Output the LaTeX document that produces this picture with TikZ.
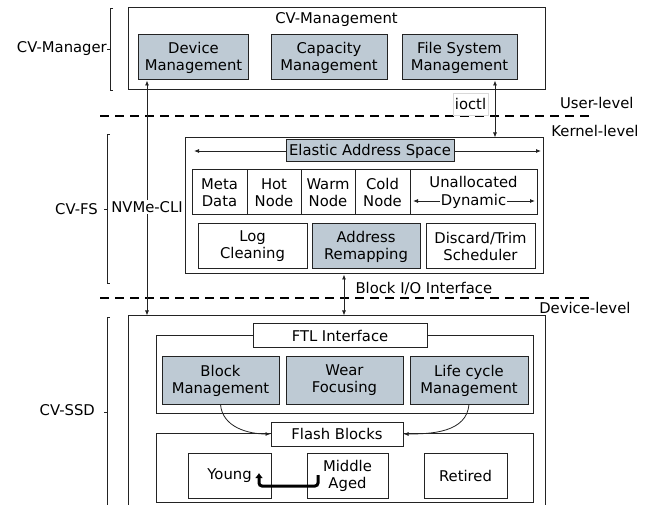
\documentclass[tikz,border=0pt]{standalone}
\usepackage{fontspec}
\setmainfont{DejaVu Sans}
\usetikzlibrary{arrows.meta,calc,positioning}
\definecolor{cvgray}{RGB}{190,202,212}
\definecolor{cvline}{RGB}{35,35,35}

\begin{document}
\begin{tikzpicture}[x=1pt,y=-1pt,
    font=\fontsize{14.8}{17}\selectfont,
    box/.style={draw=cvline,line width=1pt,inner sep=0pt,align=center},
    gbox/.style={box,fill=cvgray},
    wbox/.style={box,fill=white},
    arr/.style={-{Latex[length=5pt,width=4pt]},line width=0.8pt,cvline},
    twoway/.style={{Latex[length=5pt,width=4pt]}-{Latex[length=5pt,width=4pt]},line width=0.8pt,cvline},
    levelline/.style={line width=2pt,dash pattern=on 9pt off 6pt},
    brace/.style={line width=0.8pt,cvline}]
\useasboundingbox (0,0) rectangle (646,505);

% user level
\node[box,minimum width=417pt,minimum height=82pt] (mgmt) at (336.5,49) {};
\node (mgmttitle) at (336.5,20) {CV-Management};
\node[gbox,minimum width=110pt,minimum height=45pt] (dev) at (193.5,57.5) {Device\\Management};
\node[gbox,minimum width=116pt,minimum height=45pt] (cap) at (329,57.5) {Capacity\\Management};
\node[gbox,minimum width=115pt,minimum height=45pt] (fsm) at (459.5,57.5) {File System\\Management};

\draw[levelline] (100,116) -- (590,116);
\draw[levelline] (100,298) -- (590,298);
\node[anchor=east] (userlvl) at (637,103) {User-level};
\node[anchor=east] (kernlvl) at (642,131) {Kernel-level};
\node[anchor=east] (devlvl) at (634,308) {Device-level};

% kernel level
\node[box,minimum width=358pt,minimum height=136pt] (cvfs) at (364,206) {};
\node[gbox,minimum width=168pt,minimum height=22pt] (eas) at (370,151) {Elastic Address Space};
\coordinate (easl) at (194,151);
\coordinate (easr) at (541,151);
\draw[arr] (eas.west) -- (easl);
\draw[arr] (eas.east) -- (easr);

\node[box,minimum width=55pt,minimum height=45pt] (meta) at (219.5,192.5) {Meta\\Data};
\node[box,minimum width=54pt,minimum height=45pt] (hot) at (274,192.5) {Hot\\Node};
\node[box,minimum width=54pt,minimum height=45pt] (warm) at (328,192.5) {Warm\\Node};
\node[box,minimum width=55pt,minimum height=45pt] (cold) at (382.5,192.5) {Cold\\Node};
\node[box,minimum width=127pt,minimum height=45pt] (unalloc) at (473.5,192.5) {};
\node (unalloctxt) at (473.5,182) {Unallocated};
\node[inner sep=1pt] (dyn) at (473.5,201) {Dynamic};
\coordinate (dynl) at (413,201);
\coordinate (dynr) at (535,201);
\draw[arr] (dyn.west) -- (dynl);
\draw[arr] (dyn.east) -- (dynr);

\node[box,minimum width=109pt,minimum height=45pt] (logc) at (252.5,246.5) {Log\\Cleaning};
\node[gbox,minimum width=108pt,minimum height=45pt] (remap) at (366,246.5) {Address\\Remapping};
\node[box,minimum width=109pt,minimum height=45pt] (trim) at (480.5,246.5) {Discard/Trim\\Scheduler};

% device level
\node[box,minimum width=417pt,minimum height=214pt] (ssd) at (336.5,423) {};
\node[box,minimum width=377pt,minimum height=77pt] (ftl) at (344.5,374.5) {};
\node[wbox,minimum width=174pt,minimum height=24pt] (ftlif) at (340,336) {FTL Interface};
\node[gbox,minimum width=117pt,minimum height=47pt] (blkm) at (220.5,380.5) {Block\\Management};
\node[gbox,minimum width=117pt,minimum height=47pt] (wear) at (344.5,380.5) {Wear\\Focusing};
\node[gbox,minimum width=118pt,minimum height=47pt] (life) at (469,380.5) {Life cycle\\Management};

\node[box,minimum width=377pt,minimum height=69pt] (flash) at (344.5,467.5) {};
\node[wbox,minimum width=132pt,minimum height=24pt] (fb) at (337,434) {Flash Blocks};
\node[box,minimum width=83pt,minimum height=45pt] (young) at (229.5,475.5) {Young};
\node[box,minimum width=81pt,minimum height=45pt] (middle) at (347.5,475.5) {Middle\\Aged};
\node[box,minimum width=83pt,minimum height=45pt] (retired) at (465.5,475.5) {Retired};

\draw[arr] (blkm.south) to[out=-85,in=180] (fb.west);
\draw[arr] (life.south) to[out=-95,in=0] (fb.east);
\coordinate (agedfrom) at (318,475);
\coordinate (youngto) at (259,473);
\draw[-{Latex[length=5pt,width=8pt]},line width=3pt,rounded corners=3pt] (agedfrom) -- (318,486) -- (259,486) -- (youngto);

% interfaces
\coordinate (ioctlx) at (495,0);
\draw[twoway] (ioctlx |- fsm.south) -- (ioctlx |- cvfs.north);
\node[draw=black!15,fill=white,minimum width=35pt,minimum height=22pt,inner sep=0pt] (ioctl) at (470.5,104) {ioctl};
\coordinate (nvmex) at (147,0);
\draw[twoway] (nvmex |- dev.south) -- (nvmex |- ssd.north);
\node[fill=white,inner sep=1pt] (nvme) at (147,207) {NVMe-CLI};
\coordinate (biox) at (344,0);
\draw[twoway] (biox |- cvfs.south) -- (biox |- ssd.north);
\node[anchor=west] (bio) at (352,289) {Block I/O Interface};

% layer brackets
\draw[brace] (113,8) -- (110,8) -- (110,90) -- (113,90);
\draw[brace] (110,49) -- (107,49);
\node[anchor=east,inner sep=0pt] (cvmgr) at (107,49) {CV-Manager};
\draw[brace] (110,134) -- (107,134) -- (107,283) -- (110,283);
\draw[brace] (107,209) -- (104,209);
\node[anchor=east,inner sep=0pt] (cvfslbl) at (98,209) {CV-FS};
\draw[brace] (110,317) -- (107,317) -- (107,520);
\draw[brace] (107,412) -- (104,412);
\node[anchor=east,inner sep=0pt] (cvssd) at (95,410) {CV-SSD};
\end{tikzpicture}
\end{document}
